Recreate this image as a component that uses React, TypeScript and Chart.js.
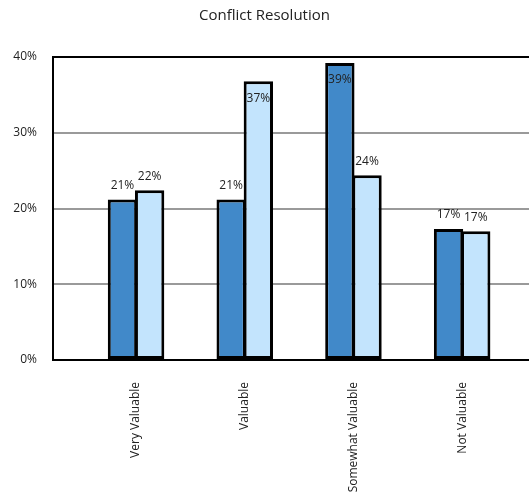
import React, { useEffect, useRef } from "react";
import { Chart, registerables } from "chart.js";

Chart.register(...registerables);

const categories = ["Very Valuable", "Valuable", "Somewhat Valuable", "Not Valuable"];
const seriesA = [21.2, 21.2, 39.2, 17.3];
const seriesB = [22.4, 36.8, 24.4, 17.0];
const yTicks = [0, 10, 20, 30, 40];
const titleText = "Conflict Resolution";

const FONT = "'Open Sans', 'Noto Sans', sans-serif";

const labelPlugin = {
  id: "barLabels",
  afterDatasetsDraw(chart: any) {
    const ctx = chart.ctx;
    ctx.save();
    ctx.font = `12px ${FONT}`;
    ctx.fillStyle = "#222";
    ctx.textAlign = "center";
    ctx.textBaseline = "middle";
    chart.data.datasets.forEach((ds: any, di: number) => {
      const meta = chart.getDatasetMeta(di);
      meta.data.forEach((bar: any, i: number) => {
        const v = ds.data[i].y;
        const txt = Math.round(v) + "%";
        const y = v >= 35 ? bar.y + 17 : bar.y - 14;
        ctx.fillText(txt, bar.x, y);
      });
    });
    ctx.restore();
  },
};

export default function App() {
  const ref = useRef<HTMLCanvasElement | null>(null);
  useEffect(() => {
    if (!ref.current) return;
    const chart = new Chart(ref.current, {
      type: "bar",
      data: {
        datasets: [
          {
            data: seriesA.map((v, i) => ({ x: i, y: v })),
            backgroundColor: "#4189C9",
            borderColor: "#000",
            borderWidth: 3,
            borderSkipped: false,
          },
          {
            data: seriesB.map((v, i) => ({ x: i, y: v })),
            backgroundColor: "#C3E4FD",
            borderColor: "#000",
            borderWidth: 3,
            borderSkipped: false,
          },
        ],
      },
      options: {
        animation: false,
        responsive: false,
        maintainAspectRatio: false,
        layout: { padding: { left: 0, right: 0, top: 0, bottom: 0 } },
        plugins: {
          legend: { display: false },
          tooltip: { enabled: false },
          title: {
            display: true,
            text: titleText,
            color: "#222",
            font: { family: FONT, size: 15, weight: "normal" },
            padding: { top: 7, bottom: 32 },
          },
        },
        datasets: { bar: { categoryPercentage: 0.5, barPercentage: 1.08 } },
        scales: {
          x: {
            type: "linear",
            offset: false,
            min: -0.764,
            max: 3.615,
            grid: { display: false },
            border: { display: true, color: "#000", width: 2 },
            afterBuildTicks(scale: any) {
              scale.ticks = categories.map((_, i) => ({ value: i }));
            },
            afterFit(scale: any) {
              scale.height = 134;
            },
            ticks: {
              autoSkip: false,
              minRotation: 90,
              maxRotation: 90,
              padding: 14,
              color: "#222",
              font: { family: FONT, size: 12 },
              callback: (v: any) => categories[Math.round(v)] ?? "",
            },
          },
          y: {
            min: 0,
            max: 40,
            afterBuildTicks(scale: any) {
              scale.ticks = yTicks.map((v) => ({ value: v }));
            },
            afterFit(scale: any) {
              scale.width = 53;
            },
            grid: {
              drawTicks: false,
              lineWidth: 2,
              color: (c: any) => (c.tick && (c.tick.value === 40 || c.tick.value === 0) ? "#000" : "#9a9a9a"),
            },
            border: { display: true, color: "#000", width: 2 },
            ticks: {
              padding: 16,
              color: "#222",
              font: { family: FONT, size: 12 },
              callback: (v: any) => v + "%",
            },
          },
        },
      },
      plugins: [labelPlugin],
    } as any);
    return () => chart.destroy();
  }, []);
  return (
    <div style={{ position: "fixed", left: 0, top: 0, width: 529, height: 494, background: "#fff" }}>
      <canvas ref={ref} width={529} height={494} style={{ width: 529, height: 494 }} />
    </div>
  );
}
